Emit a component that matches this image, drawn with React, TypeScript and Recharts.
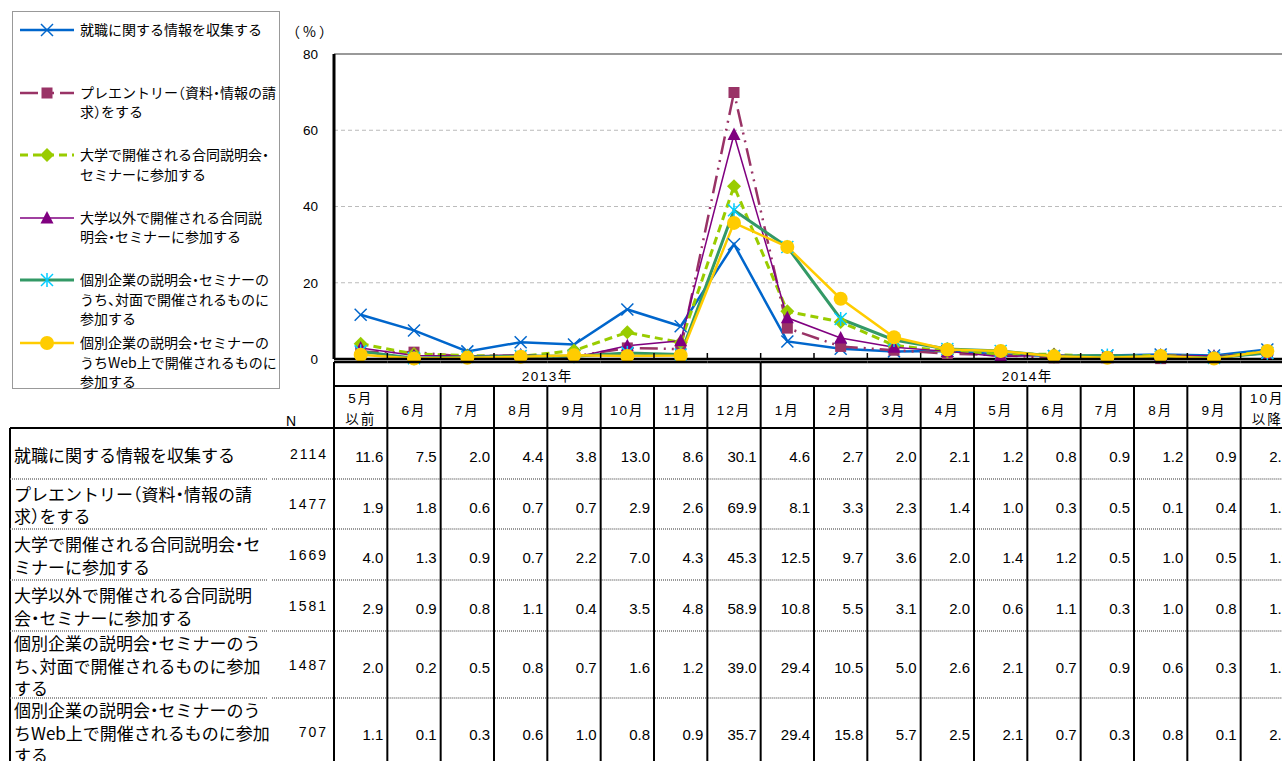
import React from "react";
import { LineChart, Line, XAxis, YAxis, CartesianGrid, ReferenceLine, Legend } from "recharts";

// 時期（表の列見出しと同じ）
const MONTHS = ["5月\n以前", "6月", "7月", "8月", "9月", "10月", "11月", "12月", "1月", "2月", "3月", "4月", "5月", "6月", "7月", "8月", "9月", "10月\n以降"];
const YEARS = ["2013年", "2014年"];
const YEAR_SPANS = [8, 10];
const Y_TICKS = [0, 20, 40, 60, 80];

// 各系列の値（%）
const JOB_INFO = [11.6, 7.5, 2.0, 4.4, 3.8, 13.0, 8.6, 30.1, 4.6, 2.7, 2.0, 2.1, 1.2, 0.8, 0.9, 1.2, 0.9, 2.5];
const PRE_ENTRY = [1.9, 1.8, 0.6, 0.7, 0.7, 2.9, 2.6, 69.9, 8.1, 3.3, 2.3, 1.4, 1.0, 0.3, 0.5, 0.1, 0.4, 1.6];
const UNIV_FAIR = [4.0, 1.3, 0.9, 0.7, 2.2, 7.0, 4.3, 45.3, 12.5, 9.7, 3.6, 2.0, 1.4, 1.2, 0.5, 1.0, 0.5, 1.9];
const OTHER_FAIR = [2.9, 0.9, 0.8, 1.1, 0.4, 3.5, 4.8, 58.9, 10.8, 5.5, 3.1, 2.0, 0.6, 1.1, 0.3, 1.0, 0.8, 1.5];
const COMPANY_FACE = [2.0, 0.2, 0.5, 0.8, 0.7, 1.6, 1.2, 39.0, 29.4, 10.5, 5.0, 2.6, 2.1, 0.7, 0.9, 0.6, 0.3, 1.6];
const COMPANY_WEB = [1.1, 0.1, 0.3, 0.6, 1.0, 0.8, 0.9, 35.7, 29.4, 15.8, 5.7, 2.5, 2.1, 0.7, 0.3, 0.8, 0.1, 2.1];
const N_VALUES = [2114, 1477, 1669, 1581, 1487, 707];

const LEGEND_LABELS = [
  ["就職に関する情報を収集する"],
  ["プレエントリー（資料・情報の請", "求）をする"],
  ["大学で開催される合同説明会・", "セミナーに参加する"],
  ["大学以外で開催される合同説", "明会・セミナーに参加する"],
  ["個別企業の説明会・セミナーの", "うち、対面で開催されるものに", "参加する"],
  ["個別企業の説明会・セミナーの", "うちWeb上で開催されるものに", "参加する"],
];
const ROW_LABELS = [
  ["就職に関する情報を収集する"],
  ["プレエントリー（資料・情報の請", "求）をする"],
  ["大学で開催される合同説明会・セ", "ミナーに参加する"],
  ["大学以外で開催される合同説明", "会・セミナーに参加する"],
  ["個別企業の説明会・セミナーのう", "ち、対面で開催されるものに参加", "する"],
  ["個別企業の説明会・セミナーのう", "ちWeb上で開催されるものに参加", "する"],
];

const SERIES = [
  { key: "s1", values: JOB_INFO, color: "#0066CC", width: 2.5, dash: undefined, shape: "x", marker: "#0066CC" },
  { key: "s2", values: PRE_ENTRY, color: "#993366", width: 2.5, dash: "18 6 2 6 2 6", shape: "square", marker: "#993366" },
  { key: "s3", values: UNIV_FAIR, color: "#99CC00", width: 3, dash: "8 5", shape: "diamond", marker: "#99CC00" },
  { key: "s4", values: OTHER_FAIR, color: "#800080", width: 1.5, dash: undefined, shape: "triangle", marker: "#800080" },
  { key: "s5", values: COMPANY_FACE, color: "#339966", width: 3, dash: undefined, shape: "asterisk", marker: "#00CCFF" },
  { key: "s6", values: COMPANY_WEB, color: "#FFCC00", width: 2.5, dash: undefined, shape: "circle", marker: "#FFCC00" },
];

const data = MONTHS.map((month, i) => {
  const row: Record<string, any> = { idx: i, month };
  SERIES.forEach((s) => (row[s.key] = s.values[i]));
  return row;
});

// layout
const PLOT_LEFT = 334;
const PLOT_TOP = 54;
const PLOT_BOTTOM = 359;
const BAND = 160 / 3;
const CHART_W = PLOT_LEFT + BAND * MONTHS.length;
const CHART_H = 761;
const YEAR_TOP = 362;
const MONTH_TOP = 386;
const ROW_TOPS = [428, 479, 529, 580, 631, 698, 765];
const FONT = '"Liberation Sans", "Noto Sans CJK JP", sans-serif';
const JP_FONT = '"Noto Sans CJK JP", "Liberation Sans", sans-serif';
const HALT = { fontFeatureSettings: '"halt"' };
const LABEL_LINE = 22.5;

function Marker({ shape, cx, cy, color }: { shape: string; cx: number; cy: number; color: string }) {
  const h = 6;
  switch (shape) {
    case "x":
      return (
        <g stroke={color} strokeWidth={1.5}>
          <line x1={cx - h} y1={cy - h} x2={cx + h} y2={cy + h} />
          <line x1={cx - h} y1={cy + h} x2={cx + h} y2={cy - h} />
        </g>
      );
    case "square":
      return <rect x={cx - 5.5} y={cy - 5.5} width={11} height={11} fill={color} />;
    case "diamond":
      return <polygon points={`${cx},${cy - 7} ${cx + 7},${cy} ${cx},${cy + 7} ${cx - 7},${cy}`} fill={color} />;
    case "triangle":
      return <polygon points={`${cx},${cy - 7} ${cx + 6.5},${cy + 5.5} ${cx - 6.5},${cy + 5.5}`} fill={color} />;
    case "asterisk":
      return (
        <g stroke={color} strokeWidth={1.5}>
          <line x1={cx - h} y1={cy - h} x2={cx + h} y2={cy + h} />
          <line x1={cx - h} y1={cy + h} x2={cx + h} y2={cy - h} />
          <line x1={cx} y1={cy - h - 1} x2={cx} y2={cy + h + 1} />
        </g>
      );
    default:
      return <circle cx={cx} cy={cy} r={7} fill={color} />;
  }
}

function LegendBox(props: any) {
  const payload = props.payload || [];
  return (
    <div style={{ width: 268, height: 378, border: "1px solid #999", boxSizing: "border-box", position: "relative", background: "#fff", fontFamily: JP_FONT }}>
      {payload.map((entry: any) => {
        const idx = SERIES.findIndex((s) => s.key === entry.dataKey);
        if (idx < 0) return null;
        const s = SERIES[idx];
        return (
          <div key={s.key} style={{ position: "absolute", left: 0, top: 8 + idx * 62.6, width: 266 }}>
            <svg width={54} height={20} style={{ position: "absolute", left: 7, top: 0 }}>
              <line x1={0} y1={10} x2={54} y2={10} stroke={s.color} strokeWidth={s.width} strokeDasharray={s.dash} />
              <Marker shape={s.shape} cx={27} cy={10} color={s.marker} />
            </svg>
            <div style={{ position: "absolute", left: 67, top: 0, fontSize: 14, lineHeight: "19.5px", whiteSpace: "nowrap", color: "#000", ...HALT }}>
              {LEGEND_LABELS[idx].map((line, k) => (
                <div key={k}>{line}</div>
              ))}
            </div>
          </div>
        );
      })}
    </div>
  );
}

function rowCenter(r: number) {
  return (ROW_TOPS[r] + ROW_TOPS[r + 1]) / 2 + 3;
}

function LeftColumns() {
  const sepLines: React.ReactNode[] = [];
  for (let r = 1; r < ROW_TOPS.length - 1; r++) {
    sepLines.push(
      <g key={r} stroke="#777" strokeWidth={1.5} strokeDasharray="1 1">
        <line x1={10} y1={ROW_TOPS[r]} x2={268} y2={ROW_TOPS[r]} />
        <line x1={272} y1={ROW_TOPS[r]} x2={PLOT_LEFT} y2={ROW_TOPS[r]} />
      </g>
    );
  }
  return (
    <g fontFamily={FONT}>
      <text x={291} y={426} fontSize={14} textAnchor="middle" fill="#000">N</text>
      <line x1={10} y1={ROW_TOPS[0]} x2={PLOT_LEFT} y2={ROW_TOPS[0]} stroke="#000" strokeWidth={2} />
      <line x1={10} y1={ROW_TOPS[0]} x2={10} y2={CHART_H} stroke="#000" strokeWidth={2} />
      {sepLines}
      {ROW_LABELS.map((lines, r) => {
        const firstY = rowCenter(r) - 0.5 - ((lines.length - 1) / 2) * LABEL_LINE + 5.5;
        return (
          <text key={r} x={14} y={firstY} fontSize={17} fontFamily={JP_FONT} style={HALT} fill="#000">
            {lines.map((line, k) => (
              <tspan key={k} x={14} dy={k === 0 ? 0 : LABEL_LINE}>
                {line}
              </tspan>
            ))}
          </text>
        );
      })}
      {N_VALUES.map((n, r) => (
        <text key={`n${r}`} x={328} y={rowCenter(r) + 2} fontSize={14} textAnchor="end" letterSpacing={2} fill="#000">
          {n}
        </text>
      ))}
    </g>
  );
}

function TableColumn(props: any) {
  const x = Number(props.x);
  const index = props.payload && props.payload.value != null ? Number(props.payload.value) : Number(props.index);
  const left = x - BAND / 2;
  const right = x + BAND / 2;
  const lines = String(MONTHS[index]).split("\n");
  let start = 0;
  let yearIdx = -1;
  YEAR_SPANS.forEach((span, k) => {
    if (start === index) yearIdx = k;
    start += span;
  });
  const last = index === MONTHS.length - 1;
  return (
    <g fontFamily={FONT}>
      {index === 0 && <LeftColumns />}
      <line x1={left} y1={YEAR_TOP} x2={right} y2={YEAR_TOP} stroke="#000" strokeWidth={2.5} />
      <line x1={left} y1={MONTH_TOP} x2={right} y2={MONTH_TOP} stroke="#000" strokeWidth={2} />
      <line x1={left} y1={ROW_TOPS[0]} x2={right} y2={ROW_TOPS[0]} stroke="#000" strokeWidth={2} />
      {ROW_TOPS.slice(1, -1).map((y, k) => (
        <line key={k} x1={left + 1} y1={y} x2={right - 1} y2={y} stroke="#777" strokeWidth={1.5} strokeDasharray="1 1" />
      ))}
      <line x1={left} y1={yearIdx >= 0 ? YEAR_TOP : MONTH_TOP} x2={left} y2={CHART_H} stroke="#000" strokeWidth={2} />
      {last && <line x1={right} y1={YEAR_TOP} x2={right} y2={CHART_H} stroke="#000" strokeWidth={2} />}
      {!last && <line x1={right} y1={PLOT_BOTTOM} x2={right} y2={PLOT_BOTTOM - 6} stroke="#000" strokeWidth={1.5} />}
      {yearIdx >= 0 && (
        <text x={left + (YEAR_SPANS[yearIdx] * BAND) / 2} y={381} fontSize={13.5} letterSpacing={1.5} textAnchor="middle" fill="#000">
          {YEARS[yearIdx]}
        </text>
      )}
      {lines.length === 1 ? (
        <text x={x} y={415} fontSize={13.5} letterSpacing={2} textAnchor="middle" fill="#000">{lines[0]}</text>
      ) : (
        <text x={x} y={403} fontSize={13.5} letterSpacing={2} textAnchor="middle" fill="#000">
          {lines.map((l, k) => (
            <tspan key={k} x={x} dy={k === 0 ? 0 : 21}>{l}</tspan>
          ))}
        </text>
      )}
      {SERIES.map((s, r) => (
        <text key={s.key} x={right - 4} y={rowCenter(r) + 5.5} fontSize={15} textAnchor="end" fill="#000">
          {s.values[index].toFixed(1)}
        </text>
      ))}
    </g>
  );
}

function PercentLabel(props: any) {
  const vb = props.viewBox || {};
  return (
    <text x={vb.x + vb.width / 2 + 4} y={vb.y - 17} fontSize={14} letterSpacing={3} textAnchor="middle" fontFamily={JP_FONT} fill="#000">
      （%）
    </text>
  );
}

export default function App() {
  return (
    <div style={{ position: "fixed", left: 0, top: 0, width: 1282, height: 761, overflow: "hidden", background: "#fff", fontFamily: FONT }}>
      <LineChart width={CHART_W} height={CHART_H} data={data} margin={{ top: PLOT_TOP, right: 0, bottom: 0, left: 280 }}>
        <CartesianGrid vertical={false} stroke="#BBB" strokeDasharray="4 3" />
        <ReferenceLine y={80} stroke="#999" strokeWidth={2} />
        <XAxis
          dataKey="idx"
          type="category"
          padding={{ left: BAND / 2, right: BAND / 2 }}
          interval={0}
          height={CHART_H - PLOT_BOTTOM}
          tickLine={false}
          axisLine={{ stroke: "#000", strokeWidth: 2.5 }}
          tick={(p: any) => <TableColumn {...p} />}
        />
        <YAxis
          domain={[0, 80]}
          ticks={Y_TICKS}
          width={PLOT_LEFT - 280}
          tickLine={false}
          tickMargin={10}
          axisLine={{ stroke: "#000", strokeWidth: 3 }}
          tick={{ fontSize: 13.5, fill: "#000", fontFamily: FONT }}
          label={(p: any) => <PercentLabel {...p} />}
        />
        <Legend
          layout="vertical"
          align="center"
          verticalAlign="middle"
          content={(p: any) => <LegendBox {...p} />}
          wrapperStyle={{ left: 12, top: 11, width: 268, height: 378 }}
        />
        {SERIES.map((s) => (
          <Line
            key={s.key}
            dataKey={s.key}
            type="linear"
            stroke={s.color}
            strokeWidth={s.width}
            strokeDasharray={s.dash}
            isAnimationActive={false}
            activeDot={false}
            dot={(p: any) => <Marker key={`${s.key}-${p.index}`} shape={s.shape} cx={p.cx} cy={p.cy} color={s.marker} />}
          />
        ))}
      </LineChart>
    </div>
  );
}
